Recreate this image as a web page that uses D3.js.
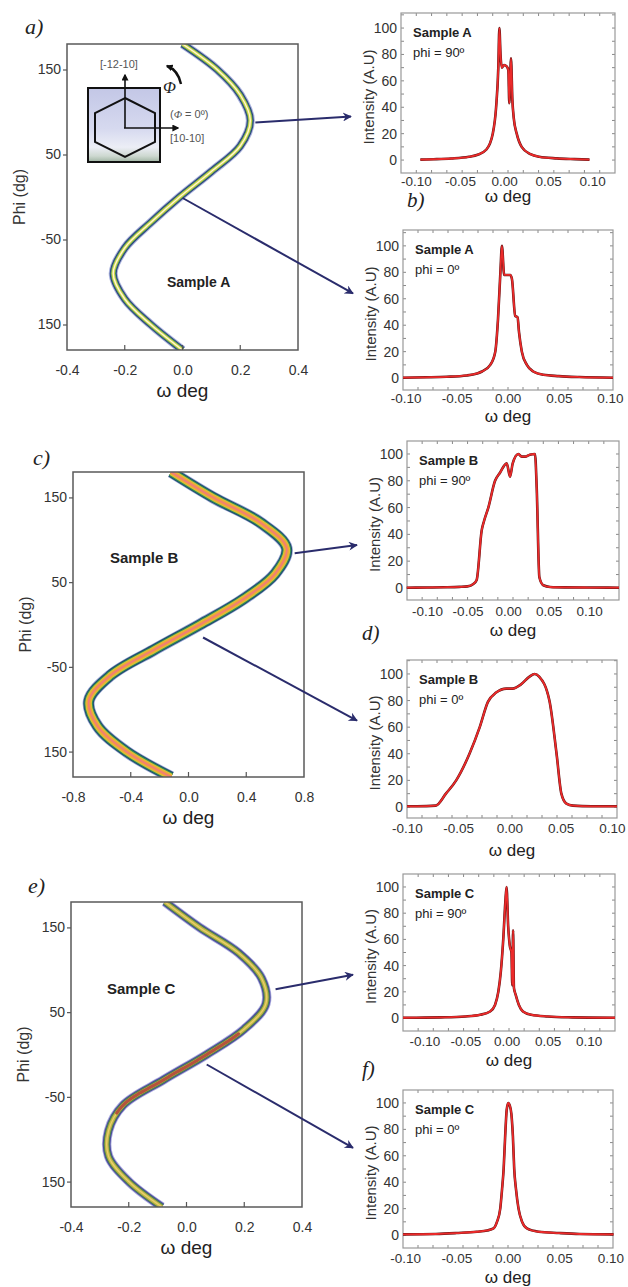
<!DOCTYPE html>
<html><head><meta charset="utf-8">
<script src="https://cdn.jsdelivr.net/npm/d3@7"></script>
<style>body{margin:0;background:#fff}svg{display:block}</style>
</head><body>
<svg id="c" width="628" height="1287"></svg>
<script>
// ================= DATA =================
// Left panels: omega (deg) vs phi (deg)
const phiGrid = [-180,-150,-120,-90,-60,-30,0,30,60,90,120,150,180];
const omegaA = [0.0,-0.11,-0.20,-0.24,-0.20,-0.11,-0.01,0.10,0.20,0.235,0.20,0.12,0.0];
const omegaB = [-0.12,-0.43,-0.63,-0.69,-0.54,-0.24,0.08,0.38,0.60,0.68,0.50,0.17,-0.12];
const omegaC = [-0.085,-0.20,-0.27,-0.27,-0.22,-0.08,0.07,0.20,0.275,0.26,0.18,0.045,-0.075];
const phiTicks = [150,50,-50,-150];
const phiTickLabels = ["150","50","-50","150"];
const omegaTicksAC = [-0.4,-0.2,0.0,0.2,0.4];
const omegaTicksB = [-0.8,-0.4,0.0,0.4,0.8];

// Right panels: intensity profiles
const wA90 = [-0.095,-0.08,-0.06,-0.04,-0.03,-0.02,-0.0128,-0.009,-0.0065,-0.0053,-0.004,-0.0026,0.0,0.003,0.0049,0.006,0.0079,0.0095,0.011,0.0144,0.02,0.03,0.04,0.06,0.08,0.097];
const iA90 = [0.3,0.6,1.2,2.5,4,8,20,40,70,100,80,70,72,71,68,43,77,45,32,20,10,4.5,2.5,1.3,0.7,0.3];
const wA0 = [-0.1025,-0.08,-0.06,-0.04,-0.03,-0.0252,-0.0171,-0.0122,-0.0095,-0.0072,-0.0057,-0.0035,0.0024,0.0041,0.0073,0.0096,0.011,0.0138,0.0187,0.025,0.035,0.05,0.07,0.103];
const iA0 = [0.3,0.6,1,2,3.5,5,10,20,45,80,100,78,78,75,47,46,35,20,10,5,2.5,1.5,0.8,0.3];
const wB90 = [-0.125,-0.10,-0.08,-0.06,-0.05,-0.0428,-0.0387,-0.0325,-0.0296,-0.0243,-0.016,-0.0099,-0.0016,0.0025,0.0058,0.0128,0.0169,0.021,0.027,0.0333,0.0354,0.0387,0.0436,0.0519,0.07,0.10,0.137];
const iB90 = [0.2,0.3,0.5,0.8,1.2,3,6,43,50,60,80,86,93,83,93,100,98,98,99.5,100,75,8,2,0.7,0.4,0.3,0.2];
const wB0 = [-0.10,-0.09,-0.0719,-0.062,-0.052,-0.039,-0.029,-0.021,-0.013,-0.003,0.003,0.011,0.0196,0.0245,0.029,0.039,0.046,0.0507,0.0556,0.062,0.08,0.105];
const iB0 = [0.5,0.5,1,10,20,40,60,79,86,89,89,92,98,100,98,80,40,10,2.5,1,0.5,0.5];
const wC90 = [-0.126,-0.10,-0.08,-0.05,-0.032,-0.02,-0.014,-0.010,-0.007,-0.004,-0.0015,0.0,0.002,0.004,0.006,0.007,0.008,0.009,0.011,0.015,0.02,0.03,0.05,0.08,0.10,0.132];
const iC90 = [0.2,0.3,0.5,1.2,2.5,5,10,20,35,60,88,100,70,55,50,25,67,23,18,10,5,2.5,1.2,0.5,0.3,0.2];
const wC0 = [-0.102,-0.07,-0.05,-0.03,-0.02,-0.0139,-0.0105,-0.0073,-0.0055,-0.004,-0.0025,-0.001,0.0005,0.002,0.0035,0.005,0.0063,0.008,0.0105,0.014,0.0187,0.03,0.05,0.07,0.103];
const iC0 = [0.5,0.8,1.5,2.5,3.5,5,10,20,35,50,75,95,100,98,92,75,50,35,20,10,5,2.5,1.5,0.8,0.5];
const intTicks = [0,20,40,60,80,100];
const wTicks = [-0.10,-0.05,0.0,0.05,0.10];

// ================= DRAWING =================
const FONT = "Arial, 'Liberation Sans', Helvetica, sans-serif";
const SERIF = "'Times New Roman', 'Liberation Serif', serif";
const svg = d3.select("#c");
const defs = svg.append("defs");
const NAVY = "#2a2c6c";

defs.append("marker").attr("id","ah").attr("viewBox","0 0 10 10")
  .attr("refX",9).attr("refY",5).attr("markerWidth",10).attr("markerHeight",9)
  .attr("markerUnits","userSpaceOnUse").attr("orient","auto")
  .append("path").attr("d","M0,0 L10,5 L0,10 L3,5 Z").attr("fill",NAVY);
defs.append("marker").attr("id","ahk").attr("viewBox","0 0 10 10")
  .attr("refX",8).attr("refY",5).attr("markerWidth",7).attr("markerHeight",7)
  .attr("markerUnits","userSpaceOnUse").attr("orient","auto-start-reverse")
  .append("path").attr("d","M0,0 L10,5 L0,10 Z").attr("fill","#111");

const grad = defs.append("linearGradient").attr("id","insetGrad").attr("x1",0).attr("y1",0).attr("x2",0).attr("y2",1);
[["0%","#c3c7e6"],["55%","#d6d9ef"],["80%","#eceef6"],["92%","#cdd8d0"],["100%","#9fb4a2"]]
  .forEach(s=>grad.append("stop").attr("offset",s[0]).attr("stop-color",s[1]));

function leftPanel(cfg){
  const x = d3.scaleLinear().domain(cfg.xDomain).range([cfg.x0,cfg.x1]);
  const y = d3.scaleLinear().domain([180,-180]).range([cfg.y0,cfg.y1]);
  const g = svg.append("g");
  const cid = "clip_"+cfg.id;
  defs.append("clipPath").attr("id",cid).append("rect")
    .attr("x",cfg.x0).attr("y",cfg.y0).attr("width",cfg.x1-cfg.x0).attr("height",cfg.y1-cfg.y0);
  const pts = phiGrid.map((p,i)=>[p,cfg.omega[i]]);
  const line = d3.line().x(d=>x(d[1])).y(d=>y(d[0])).curve(d3.curveCatmullRom.alpha(0.5));
  const cg = g.append("g").attr("clip-path",`url(#${cid})`);
  cfg.bands.forEach(b=>{
    cg.append("path").attr("d",line(pts)).attr("fill","none")
      .attr("stroke",b.c).attr("stroke-width",b.w).attr("stroke-opacity",b.o||1);
  });
  if(cfg.redRange){
    const tmp = cg.append("path").attr("d",line(pts)).attr("fill","none").attr("stroke","none");
    const node = tmp.node(), L = node.getTotalLength();
    const seg=[];
    for(let s=0;s<=L;s+=1){const p=node.getPointAtLength(s); const ph=y.invert(p.y); if(ph>=cfg.redRange[0]&&ph<=cfg.redRange[1]) seg.push([p.x,p.y]);}
    tmp.remove();
    cg.append("path").attr("d",d3.line().curve(d3.curveLinear)(seg)).attr("fill","none")
      .attr("stroke","#b5533c").attr("stroke-width",3.2).attr("stroke-linecap","round");
  }
  g.append("rect").attr("x",cfg.x0).attr("y",cfg.y0).attr("width",cfg.x1-cfg.x0).attr("height",cfg.y1-cfg.y0)
    .attr("fill","none").attr("stroke","#5a5a5a").attr("stroke-width",1.5);
  const ya = g.append("g").attr("transform",`translate(${cfg.x0},0)`)
    .call(d3.axisLeft(y).tickValues(phiTicks).tickFormat((d,i)=>phiTickLabels[i]).tickSize(4).tickPadding(2));
  ya.select(".domain").remove();
  ya.selectAll("line").attr("stroke","#555").attr("stroke-width",1.2);
  ya.selectAll("text").attr("font-family",FONT).attr("font-size",14).attr("fill","#333");
  const xa = g.append("g").attr("transform",`translate(0,${cfg.y1})`)
    .call(d3.axisBottom(x).tickValues(cfg.xTicks).tickFormat(d=>d.toFixed(1)).tickSize(0).tickPadding(15));
  xa.select(".domain").remove();
  xa.selectAll("text").attr("font-family",FONT).attr("font-size",14).attr("fill","#333");
  g.selectAll(null).data(cfg.xTicks.slice(1,-1)).enter().append("line")
    .attr("x1",d=>x(d)).attr("x2",d=>x(d)).attr("y1",cfg.y1).attr("y2",cfg.y1-5)
    .attr("stroke","#555").attr("stroke-width",1.2);
  g.append("text").attr("x",(cfg.x0+cfg.x1)/2).attr("y",cfg.y1+47).attr("text-anchor","middle")
    .attr("font-family",FONT).attr("font-size",19).attr("fill","#222").text("ω deg");
  g.append("text").attr("transform",`translate(${cfg.x0-48},${(cfg.y0+cfg.y1)/2}) rotate(-90)`)
    .attr("text-anchor","middle").attr("dominant-baseline","central")
    .attr("font-family",FONT).attr("font-size",16).attr("fill","#333").text("Phi (dg)");
  g.append("text").attr("x",cfg.sx).attr("y",cfg.sy).attr("font-family",FONT).attr("font-weight","bold")
    .attr("font-size",cfg.sfs).attr("fill","#222").text(cfg.sample);
  g.append("text").attr("x",cfg.lx).attr("y",cfg.ly).attr("font-family",SERIF).attr("font-style","italic")
    .attr("font-size",22).attr("fill","#222").text(cfg.letter);
  return {x,y};
}

function rightPanel(cfg){
  const x = d3.scaleLinear().domain(cfg.xDomain).range([cfg.x0,cfg.x1]);
  const y = d3.scaleLinear().domain(cfg.yDomain).range([cfg.y1,cfg.y0]);
  const g = svg.append("g");
  const nx = 14;
  const xt = d3.range(1,nx).map(k=>cfg.x0+k*(cfg.x1-cfg.x0)/nx);
  xt.forEach(px=>{
    g.append("line").attr("x1",px).attr("x2",px).attr("y1",cfg.y0).attr("y2",cfg.y0+3).attr("stroke","#888");
    g.append("line").attr("x1",px).attr("x2",px).attr("y1",cfg.y1).attr("y2",cfg.y1-3).attr("stroke","#888");
  });
  d3.range(-10,111,10).filter(v=>v>cfg.yDomain[0]&&v<cfg.yDomain[1]).forEach(v=>{
    g.append("line").attr("x1",cfg.x1).attr("x2",cfg.x1-3).attr("y1",y(v)).attr("y2",y(v)).attr("stroke","#888");
    g.append("line").attr("x1",cfg.x0).attr("x2",cfg.x0+3).attr("y1",y(v)).attr("y2",y(v)).attr("stroke","#888");
  });
  g.append("rect").attr("x",cfg.x0).attr("y",cfg.y0).attr("width",cfg.x1-cfg.x0).attr("height",cfg.y1-cfg.y0)
    .attr("fill","none").attr("stroke","#999").attr("stroke-width",1.2);
  const ya = g.append("g").attr("transform",`translate(${cfg.x0},0)`)
    .call(d3.axisLeft(y).tickValues(intTicks).tickFormat(d=>String(d)).tickSize(0).tickPadding(4));
  ya.select(".domain").remove();
  ya.selectAll("text").attr("font-family",FONT).attr("font-size",14).attr("fill","#333");
  const xa = g.append("g").attr("transform",`translate(0,${cfg.y1})`)
    .call(d3.axisBottom(x).tickValues(wTicks).tickFormat(d=>d.toFixed(2)).tickSize(0).tickPadding(cfg.tp));
  xa.select(".domain").remove();
  xa.selectAll("text").attr("font-family",FONT).attr("font-size",13.5).attr("fill","#333");
  const pts = cfg.w.map((w,i)=>[w,cfg.i[i]]);
  const line = d3.line().x(d=>x(d[0])).y(d=>y(d[1])).curve(d3.curveMonotoneX);
  g.append("path").attr("d",line(pts)).attr("fill","none").attr("stroke","#5a1414").attr("stroke-width",2.6).attr("stroke-linejoin","round");
  g.append("path").attr("d",line(pts)).attr("fill","none").attr("stroke","#ec2a2a").attr("stroke-width",1.8).attr("stroke-linejoin","round");
  g.append("text").attr("x",(cfg.x0+cfg.x1)/2).attr("y",cfg.y1+cfg.lab).attr("text-anchor","middle")
    .attr("font-family",FONT).attr("font-size",17).attr("fill","#222").text("ω deg");
  g.append("text").attr("transform",`translate(${cfg.x0-33},${(cfg.y0+cfg.y1)/2+4}) rotate(-90)`)
    .attr("text-anchor","middle").attr("dominant-baseline","central")
    .attr("font-family",FONT).attr("font-size",15).attr("fill","#333").text("Intensity (A.U)");
  g.append("text").attr("x",cfg.x0+12).attr("y",cfg.y0+24).attr("font-family",FONT).attr("font-weight","bold")
    .attr("font-size",13).attr("fill","#222").text(cfg.sample);
  g.append("text").attr("x",cfg.x0+12).attr("y",cfg.y0+44).attr("font-family",FONT)
    .attr("font-size",13).attr("fill","#222").text(cfg.phi);
  if(cfg.letter){
    g.append("text").attr("x",cfg.lx).attr("y",cfg.ly).attr("font-family",SERIF).attr("font-style","italic")
      .attr("font-size",21).attr("fill","#222").text(cfg.letter);
  }
  return {x,y};
}

const bandsA = [{w:9,c:"#aab3de"},{w:7,c:"#2d3f7c"},{w:5.2,c:"#3f8d66"},{w:3.6,c:"#cfd24a"},{w:1.4,c:"#fff9d2"}];
const bandsB = [{w:12,c:"#9aa8d6"},{w:10.5,c:"#1f4a6c"},{w:8.6,c:"#2f8d58"},{w:6.6,c:"#dcc232"},{w:4.2,c:"#f0a43e"},{w:1.6,c:"#f27a7a"}];
const bandsC = [{w:9.5,c:"#aeaee0"},{w:7.8,c:"#4a4a9c"},{w:5.8,c:"#4d8a48"},{w:3.8,c:"#c6b24a"},{w:1.3,c:"#e6d468"}];

const LA = leftPanel({id:"a",x0:67,x1:298,y0:44,y1:350,xDomain:[-0.4,0.4],xTicks:omegaTicksAC,omega:omegaA,bands:bandsA,
  sample:"Sample A",sx:167,sy:287,sfs:14,letter:"a)",lx:25,ly:34});
const LB = leftPanel({id:"b",x0:73,x1:304,y0:472,y1:777,xDomain:[-0.8,0.8],xTicks:omegaTicksB,omega:omegaB,bands:bandsB,
  sample:"Sample B",sx:110,sy:563,sfs:15,letter:"c)",lx:33,ly:465});
const LC = leftPanel({id:"c",x0:71,x1:302,y0:902,y1:1207,xDomain:[-0.4,0.4],xTicks:omegaTicksAC,omega:omegaC,bands:bandsC,
  sample:"Sample C",sx:107,sy:994,sfs:15,letter:"e)",lx:28,ly:893,redRange:[-70,25]});

const RA90 = rightPanel({x0:401,x1:615,y0:13,y1:173,xDomain:[-0.117,0.126],yDomain:[-9.8,111.4],w:wA90,i:iA90,
  sample:"Sample A",phi:"phi = 90º",lab:29,tp:3,letter:"b)",lx:407,ly:207});
const RA0 = rightPanel({x0:403,x1:613,y0:230,y1:390,xDomain:[-0.1025,0.103],yDomain:[-9,112],w:wA0,i:iA0,
  sample:"Sample A",phi:"phi = 0º",lab:32,tp:3});
const RB90 = rightPanel({x0:407,x1:619,y0:441,y1:600,xDomain:[-0.1247,0.137],yDomain:[-9,109.7],w:wB90,i:iB90,
  sample:"Sample B",phi:"phi = 90º",lab:36,tp:6,letter:"d)",lx:362,ly:640});
const RB0 = rightPanel({x0:407,x1:617,y0:660,y1:818,xDomain:[-0.10,0.105],yDomain:[-8.3,110.5],w:wB0,i:iB0,
  sample:"Sample B",phi:"phi = 0º",lab:38,tp:5});
const RC90 = rightPanel({x0:403,x1:615,y0:874,y1:1031,xDomain:[-0.126,0.132],yDomain:[-9.9,109.9],w:wC90,i:iC90,
  sample:"Sample C",phi:"phi = 90º",lab:35,tp:5,letter:"f)",lx:362,ly:1076});
const RC0 = rightPanel({x0:403,x1:613,y0:1090,y1:1248,xDomain:[-0.102,0.1025],yDomain:[-9.8,109.8],w:wC0,i:iC0,
  sample:"Sample C",phi:"phi = 0º",lab:35,tp:5});

function arrow(L, omegaArr, phi, dx, dy, R, val){
  const k = phiGrid.indexOf(phi);
  const sx = L.x(omegaArr[k])+dx, sy = L.y(phi)+dy;
  const ex = R.x.range()[0]-50, ey = R.y(val);
  svg.append("line").attr("x1",sx).attr("y1",sy).attr("x2",ex).attr("y2",ey)
    .attr("stroke",NAVY).attr("stroke-width",2).attr("marker-end","url(#ah)");
}
arrow(LA, omegaA, 90, 5, 2, RA90, 33);
arrow(LA, omegaA, 0, 3, 1, RA0, 64);
arrow(LB, omegaB, 90, 8, 5, RB90, 32);
arrow(LB, omegaB, 0, 3, 13, RB0, 65);
arrow(LC, omegaC, 90, 14, 11, RC90, 33);
arrow(LC, omegaC, 0, 0, 10, RC0, 66);

const ins = svg.append("g");
ins.append("rect").attr("x",88).attr("y",88).attr("width",72).attr("height",74)
  .attr("fill","url(#insetGrad)").attr("stroke","#111").attr("stroke-width",2);
ins.append("polygon").attr("points","125,98 155,113 155,142 125,157 95,142 95,113")
  .attr("fill","none").attr("stroke","#111").attr("stroke-width",2);
ins.append("line").attr("x1",125).attr("y1",128).attr("x2",125).attr("y2",75)
  .attr("stroke","#111").attr("stroke-width",1.6).attr("marker-end","url(#ahk)");
ins.append("line").attr("x1",124).attr("y1",128).attr("x2",178).attr("y2",128)
  .attr("stroke","#111").attr("stroke-width",1.6).attr("marker-end","url(#ahk)");
ins.append("path").attr("d","M167,66 Q178,70 181,84").attr("fill","none")
  .attr("stroke","#111").attr("stroke-width",2.4).attr("marker-start","url(#ahk)");
ins.append("text").attr("x",163).attr("y",93).attr("font-family",SERIF).attr("font-style","italic")
  .attr("font-size",17).attr("fill","#222").text("Φ");
ins.append("text").attr("x",100).attr("y",68).attr("font-family",FONT).attr("font-size",11).attr("fill","#555").text("[-12-10]");
ins.append("text").attr("x",170).attr("y",118).attr("font-family",FONT).attr("font-size",11).attr("fill","#555")
  .html("(<tspan font-style='italic' font-family=\"'Times New Roman','Liberation Serif',serif\">Φ</tspan> = 0º)");
ins.append("text").attr("x",170).attr("y",142).attr("font-family",FONT).attr("font-size",11).attr("fill","#555").text("[10-10]");
</script>
</body></html>
